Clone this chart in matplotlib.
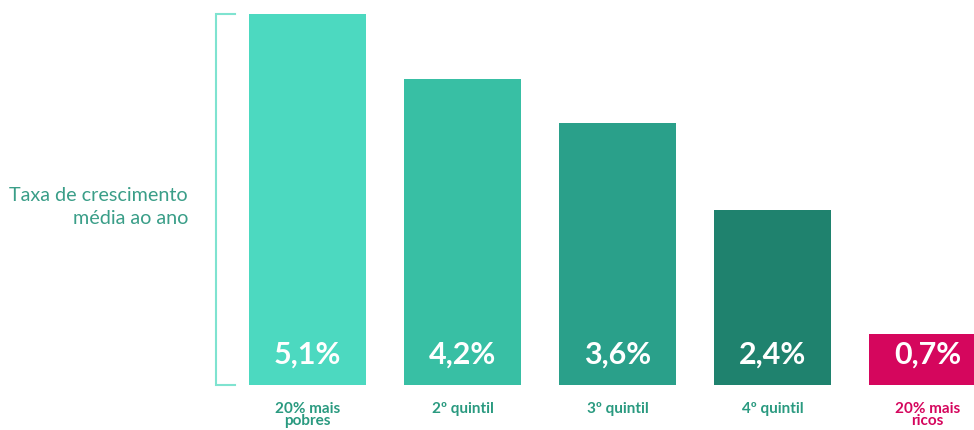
import matplotlib.pyplot as plt

# =========================
# Data
# =========================
categories = ["20% mais\npobres", "2º quintil", "3º quintil", "4º quintil", "20% mais\nricos"]
values = [5.1, 4.2, 3.6, 2.4, 0.7]
value_labels = ["5,1%", "4,2%", "3,6%", "2,4%", "0,7%"]

bar_colors = ["#4cd9c0", "#38bfa4", "#2aa08a", "#1f826e", "#d5065d"]
label_colors = ["#2a9a80", "#2a9a80", "#2a9a80", "#2a9a80", "#d5065d"]

plt.rcParams["font.family"] = ["Lato", "DejaVu Sans"]

# =========================
# Figure
# =========================
W, H = 974, 431
fig = plt.figure(figsize=(W / 100, H / 100), dpi=100)

# axes spans from left edge of first bar to the right border (last bar is cut)
left_px, right_px, top_px, bottom_px = 249, 974, 15, 386
ax = fig.add_axes([left_px / W, 1 - bottom_px / H,
                   (right_px - left_px) / W, (bottom_px - top_px) / H])

width = 117 / 155
x = list(range(len(values)))
ax.bar(x, values, width=width, color=bar_colors)

ax.set_xlim(-width / 2, -width / 2 + (right_px - left_px) / 155)
ax.set_ylim(0, max(values))
ax.axis("off")

# value labels inside bars, near the bottom
for xi, lab in zip(x, value_labels):
    ax.text(xi, 0.085, lab, transform=ax.get_xaxis_transform(),
            ha="center", va="center", color="white",
            fontsize=22, fontweight="bold")

# category labels below
for xi, cat, c in zip(x, categories, label_colors):
    ax.text(xi, -0.042, cat, transform=ax.get_xaxis_transform(),
            ha="center", va="top", color=c, fontsize=11,
            fontweight="bold", linespacing=0.9, clip_on=False)

# bracket on the left
bx0 = (216 - left_px) / (right_px - left_px)
bx1 = (235 - left_px) / (right_px - left_px)
ax.plot([bx1, bx0, bx0, bx1], [1, 1, 0, 0], transform=ax.transAxes,
        color="#7fe3d0", lw=1.5, clip_on=False, solid_joinstyle="miter")

# axis title
fig.text(188 / W, 1 - 207 / H, "Taxa de crescimento\nmédia ao ano",
         ha="right", va="center", color="#3a9e88", fontsize=14.2,
         linespacing=1.4, multialignment="right")

fig.savefig("out.png", dpi=100)
plt.close()
